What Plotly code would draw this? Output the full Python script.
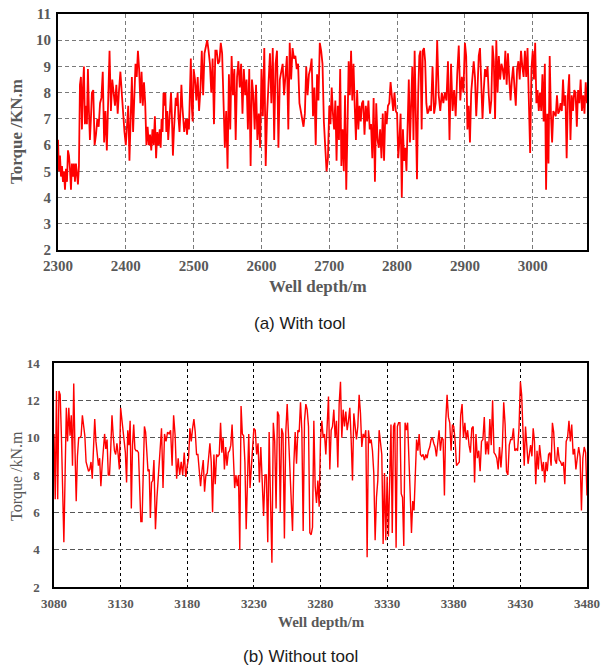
import numpy as np
import plotly.graph_objects as go

# (a) with tool, torque kN.m, read in 50 m pieces
wt_2300 = [6.2, 5.0, 5.6, 4.8, 5.2, 4.6, 5.0, 4.3, 5.1, 4.6, 5.8, 5.6, 5.1, 4.3, 5.3, 4.8, 5.3,
           4.6, 5.3, 5.0, 4.5, 5.2, 8.3, 8.6, 6.6, 8.2, 9.0, 6.8, 7.5, 6.8, 8.9, 7.3, 6.2, 7.0]
wt_2350 = [8.0, 8.1, 6.0, 6.4, 7.0, 6.7, 7.6, 7.8, 8.8, 6.1, 7.3, 5.8, 7.6, 9.6, 7.3, 8.5, 8.0,
           7.5, 8.3, 7.2, 8.1, 8.8, 8.0, 7.0, 6.5]
wt_2400 = [6.0, 6.9, 7.5, 5.4, 6.8, 8.6, 6.5, 7.5, 9.1, 8.6, 9.6, 8.9, 7.6, 8.8, 7.5, 8.4, 7.6,
           6.0, 6.7, 6.0, 6.4, 5.8, 6.6, 6.0, 7.1, 5.5, 6.5, 6.0]
wt_2450 = [6.6, 5.9, 7.0, 6.5, 8.0, 7.5, 8.0, 6.5, 7.3, 6.2, 7.0, 7.7, 8.0, 7.0, 5.6, 6.5, 7.0,
           7.8, 7.5, 8.0, 7.0, 6.5, 7.3, 8.3, 7.5, 7.0, 6.5, 6.8, 7.0, 6.4, 7.0, 6.6, 8.6, 9.3,
           7.5, 6.9]
wt_2500 = [8.9, 8.5, 7.7, 8.6, 7.3, 8.1, 9.6, 7.9, 9.5, 9.8, 10.0, 9.6, 9.1, 8.0, 9.3, 6.8, 9.6,
           9.6, 9.1, 9.2, 9.9, 9.5, 7.7, 5.9, 7.3]
wt_2550 = [5.1, 8.7, 6.6, 9.4, 7.9, 8.9, 6.2, 8.6, 9.2, 8.2, 9.1, 7.2, 8.9, 7.9, 8.5, 6.6, 8.9,
           5.2, 8.5, 7.9, 6.6, 8.3, 6.2, 7.2, 5.9]
wt_2600 = [8.9, 7.1, 9.7, 5.2, 7.2, 8.6, 9.5, 7.6, 9.7, 6.2, 9.1, 9.6, 5.9, 8.5, 8.9, 9.1, 7.9,
           8.7, 9.4, 6.6, 9.9, 8.5, 9.7, 9.3]
wt_2650 = [9.4, 8.9, 9.1, 7.6, 7.3, 6.9, 6.7, 7.2, 9.0, 7.9, 8.7, 8.9, 9.3, 7.1, 8.2, 6.0, 8.7,
           7.7, 9.9, 9.6, 9.1, 6.9, 5.6, 5.0, 5.5]
wt_2700 = [7.5, 6.8, 8.2, 7.2, 6.6, 7.7, 5.4, 7.5, 6.2, 8.9, 5.2, 6.6, 5.0, 7.9, 4.3, 6.6, 9.2,
           7.9, 9.6, 7.7, 9.1, 7.5, 6.2, 8.1, 6.6, 7.5, 6.9, 7.6]
wt_2750 = [7.7, 6.4, 7.5, 6.9, 7.7, 6.6, 6.8, 5.5, 7.8, 4.6, 7.6, 6.2, 5.9, 6.6, 5.5, 7.2, 5.4,
           7.3, 6.8, 7.5, 7.6, 8.4, 7.9, 7.3, 8.0, 7.3]
wt_2800 = [7.2, 5.5, 6.2, 7.2, 4.0, 6.6, 5.4, 5.9, 5.0, 6.9, 8.5, 6.1, 7.9, 9.0, 6.2, 9.6, 7.2,
           4.7, 7.9, 9.4, 9.6, 6.6, 9.6, 9.7, 9.2, 7.6, 7.2, 7.3, 7.5]
wt_2850 = [7.3, 9.0, 7.2, 7.6, 10.0, 7.9, 7.3, 8.0, 7.6, 8.0, 7.7, 9.2, 6.2, 9.1, 7.3, 8.1, 7.1,
           8.7, 9.8, 7.7, 8.6, 8.0]
wt_2900 = [9.9, 9.4, 6.6, 7.5, 6.1, 8.0, 8.6, 9.2, 8.6, 7.1, 8.1, 9.4, 9.7, 8.5, 7.0, 8.1, 8.9,
           8.6, 9.0, 7.9, 7.2, 7.7, 9.8, 9.2, 7.0, 10.0, 8.0]
wt_2950 = [9.4, 8.5, 9.1, 8.9, 8.5, 9.6, 8.3, 9.5, 8.5, 7.7, 8.5, 9.0, 8.2, 7.5, 8.9, 9.2, 8.5,
           9.6, 9.0, 8.6, 9.6, 8.6, 9.7, 7.2, 5.7, 8.9]
wt_3000 = [9.6, 8.5, 9.9, 7.6, 8.1, 7.3, 8.0, 7.3, 8.7, 6.9, 9.1, 4.3, 7.2, 5.3, 9.4, 7.2, 6.1,
           7.3, 7.2, 7.1, 7.9, 7.2, 7.3, 7.6, 7.3, 8.5, 7.5, 7.9]
wt_3050 = [5.5, 7.9, 8.7, 6.2, 7.9, 7.3, 8.1, 8.0, 6.7, 8.1, 7.6, 8.5, 7.3, 7.9, 7.2, 8.4, 7.6]

# (b) without tool, read in 25 m pieces
wo_3080 = [10.2, 6.7, 12.5, 6.7, 12.5, 12.3, 10.1, 6.5, 4.4, 8.0, 11.6, 9.8, 11.6, 10.1, 11.2,
           8.5, 12.9, 9.4, 6.6, 9.0, 10.0, 10.0, 10.1, 11.2, 10.5, 10.1, 8.7]
wo_3105 = [8.5, 8.2, 8.3, 8.7, 7.8, 9.9, 11.0, 9.8, 9.1, 8.5, 8.9, 7.4, 8.5, 9.6, 10.2, 9.4, 9.9,
           8.0, 8.0, 9.4, 11.2, 10.1, 9.3, 9.1, 9.7, 9.1, 8.3]
wo_3130 = [11.6, 11.0, 10.3, 9.8, 9.2, 7.6, 10.4, 9.6, 10.9, 6.2, 9.6, 10.7, 9.4, 9.3, 9.3, 9.2,
           7.4, 5.5, 5.5, 7.6, 10.6, 10.3, 9.1, 8.2, 8.3, 5.7, 7.6, 7.7]
wo_3155 = [8.8, 5.1, 6.8, 8.0, 9.2, 10.5, 7.3, 10.2, 9.8, 10.3, 10.2, 10.4, 8.5, 11.2, 10.1, 7.8,
           8.9, 8.0, 8.7, 8.0, 9.2, 7.9]
wo_3180 = [8.5, 8.9, 10.5, 9.8, 10.5, 11.0, 10.3, 9.1, 9.1, 8.4, 7.4, 8.2, 8.8, 7.1, 8.0, 8.1,
           8.9, 9.7, 8.7, 6.0, 9.1, 7.5, 9.1, 9.0, 9.1]
wo_3205 = [10.8, 9.2, 10.0, 8.3, 9.5, 8.5, 9.2, 9.3, 9.6, 10.7, 9.1, 7.3, 8.0, 7.4, 8.0, 4.0,
           11.7, 10.2, 10.1, 8.7, 5.1, 7.6, 10.2, 7.3, 8.3, 9.1]
wo_3230 = [10.5, 10.4, 9.1, 9.7, 7.6, 9.5, 7.6, 5.8, 8.0, 8.0, 4.4, 10.3, 6.6, 3.3, 10.8, 9.8,
           6.2, 11.4, 11.2, 6.0, 10.5, 10.2, 4.6, 10.3]
wo_3255 = [11.8, 9.9, 8.2, 6.6, 5.0, 8.6, 10.3, 8.6, 10.4, 10.3, 11.9, 10.4, 5.0, 10.9, 11.8,
           11.5, 10.6, 4.9, 4.8, 5.2, 10.9, 7.4, 6.5, 7.7, 6.3]
wo_3280 = [9.9, 10.9, 10.0, 10.2, 9.1, 10.6, 12.2, 8.3, 10.4, 10.6, 11.5, 10.0, 10.9, 8.4, 11.8,
           13.0, 10.0, 11.5, 10.6, 11.4, 10.4, 10.9, 11.6, 9.9, 7.7]
wo_3305 = [11.3, 10.6, 9.9, 10.6, 12.3, 11.3, 9.5, 10.2, 10.0, 10.4, 3.6, 10.4, 9.7, 9.9, 9.3,
           8.1, 4.5, 6.8, 7.7, 10.4, 9.5, 9.1, 4.3, 8.1, 4.5]
wo_3330 = [7.9, 4.7, 7.5, 10.7, 4.9, 10.6, 10.8, 4.1, 10.6, 10.8, 10.8, 7.0, 6.8, 4.2, 10.8, 10.4,
           10.8, 9.3, 7.0, 4.9, 6.6, 6.1, 8.6, 9.9, 9.3, 10.2]
wo_3355 = [9.1, 9.0, 9.1, 8.8, 9.1, 8.9, 9.3, 9.5, 9.9, 10.0, 9.7, 9.5, 9.0, 9.9, 10.4, 9.3, 10.0,
           9.9, 6.9, 10.9, 12.3, 11.1, 10.8, 9.3, 10.7]
wo_3380 = [10.6, 9.8, 8.5, 8.6, 8.7, 11.2, 11.8, 10.0, 10.8, 9.9, 10.4, 9.6, 9.2, 10.5, 10.6, 7.6,
           10.2, 8.9, 9.3, 8.2, 9.8, 9.9, 11.1, 9.1]
wo_3405 = [9.8, 9.1, 11.0, 9.6, 12.0, 9.2, 9.1, 8.9, 8.3, 9.5, 8.4, 9.5, 11.9, 10.7, 8.2, 8.0, 9.6,
           9.9, 9.9, 10.5, 9.3, 9.4, 9.3, 10.5]
wo_3430 = [13.0, 12.3, 9.8, 8.5, 10.6, 9.8, 8.6, 9.1, 9.6, 9.0, 10.5, 9.8, 7.5, 9.3, 8.3, 9.6, 8.9,
           8.2, 8.7, 7.6, 8.7, 8.2, 9.1, 9.2, 8.5, 10.8]
wo_3455 = [10.3, 8.8, 8.6, 9.5, 8.8, 8.7, 8.5, 8.7, 7.5, 9.8, 10.0, 10.9, 9.8, 10.7, 9.1, 9.4, 8.3,
           9.1, 9.5, 9.0, 6.1, 8.9, 9.5, 9.2, 6.9]

wt_starts = [2300, 2350, 2400, 2450, 2500, 2550, 2600, 2650, 2700, 2750, 2800, 2850, 2900, 2950,
             3000, 3050]
wt_parts = [wt_2300, wt_2350, wt_2400, wt_2450, wt_2500, wt_2550, wt_2600, wt_2650, wt_2700,
            wt_2750, wt_2800, wt_2850, wt_2900, wt_2950, wt_3000, wt_3050]
wo_starts = [3080, 3105, 3130, 3155, 3180, 3205, 3230, 3255, 3280, 3305, 3330, 3355, 3380, 3405,
             3430, 3455]
wo_parts = [wo_3080, wo_3105, wo_3130, wo_3155, wo_3180, wo_3205, wo_3230, wo_3255, wo_3280,
            wo_3305, wo_3330, wo_3355, wo_3380, wo_3405, wo_3430, wo_3455]


def join(starts, parts, end):
    xs, ys = [], []
    bounds = starts[1:] + [end]
    for i, (a, b, vals) in enumerate(zip(starts, bounds, parts)):
        last = i == len(parts) - 1
        xs.extend(np.linspace(a, b, len(vals), endpoint=last))
        ys.extend(vals)
    return xs, ys


x_a, y_a = join(wt_starts, wt_parts, 3080)
x_b, y_b = join(wo_starts, wo_parts, 3480)

W, H = 601, 670
serif = "Liberation Serif"
grey = "#595959"

fig = go.Figure()
fig.add_trace(go.Scatter(x=x_a, y=y_a, mode="lines", line=dict(color="#ff0000", width=1.8),
                         xaxis="x", yaxis="y", showlegend=False))
fig.add_trace(go.Scatter(x=x_b, y=y_b, mode="lines", line=dict(color="#ff0000", width=1.4),
                         xaxis="x2", yaxis="y2", showlegend=False))

tick_a = dict(family=serif, size=15, color=grey, weight="bold")
tick_b = dict(family=serif, size=13, color=grey, weight="bold")
common = dict(showline=True, linecolor="black", mirror=True, ticks="", zeroline=False,
              showgrid=True, automargin=False)

fig.update_layout(
    width=W, height=H, margin=dict(l=0, r=0, t=0, b=0),
    paper_bgcolor="white", plot_bgcolor="white",
    xaxis=dict(domain=[58 / W, 587 / W], anchor="y", range=[2300, 3080], dtick=100, tick0=2300,
               gridcolor="#7a7a7a", griddash="4px,3px", gridwidth=1, linewidth=2,
               tickfont=tick_a, ticklabelstandoff=1, **common),
    yaxis=dict(domain=[1 - 250 / H, 1 - 14 / H], anchor="x", range=[2, 11], dtick=1,
               gridcolor="#7a7a7a", griddash="4px,3px", gridwidth=1, linewidth=2,
               tickfont=tick_a, ticklabelstandoff=2, **common),
    xaxis2=dict(domain=[54 / W, 587 / W], anchor="y2", range=[3080, 3480], dtick=50, tick0=3080,
                gridcolor="black", griddash="3px,3px", gridwidth=1, linewidth=1.5,
                tickfont=tick_b, ticklabelstandoff=4, **common),
    yaxis2=dict(domain=[1 - 587 / H, 1 - 363 / H], anchor="x2", range=[2, 14], dtick=2,
                gridcolor="#555555", griddash="5px,3px", gridwidth=1.2, linewidth=1.5,
                tickfont=tick_b, ticklabelstandoff=10, **common),
)

notes = [
    dict(text="Torque /KN.m", x=16 / W, y=1 - 132 / H, textangle=-90,
         font=dict(family=serif, size=17, color=grey, weight="bold")),
    dict(text="Well depth/m", x=318 / W, y=1 - 287 / H,
         font=dict(family=serif, size=17, color=grey, weight="bold")),
    dict(text="(a) With tool", x=300 / W, y=1 - 323 / H,
         font=dict(family="Liberation Sans", size=17, color="#1a1a1a")),
    dict(text="Torque /kN.m", x=17 / W, y=1 - 476 / H, textangle=-90,
         font=dict(family=serif, size=16, color=grey)),
    dict(text="Well depth/m", x=321 / W, y=1 - 622 / H,
         font=dict(family=serif, size=15, color=grey, weight="bold")),
    dict(text="(b) Without tool", x=300 / W, y=1 - 656 / H,
         font=dict(family="Liberation Sans", size=17, color="#1a1a1a")),
]
for n in notes:
    fig.add_annotation(xref="paper", yref="paper", xanchor="center", yanchor="middle",
                       showarrow=False, **n)

# the page's default body margin would shift the figure by 8px
fig.write_html("out.html", config={"displayModeBar": False},
               post_script="document.body.style.margin='0';")
